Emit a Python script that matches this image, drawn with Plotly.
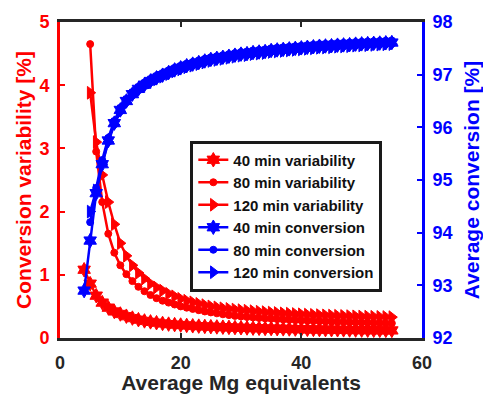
import plotly.graph_objects as go

# ---------------- data ----------------
x40 = [4, 5, 6, 7, 8, 9, 10, 11, 12, 13, 14, 15, 16, 17, 18, 19, 20, 21, 22, 23,
       24, 25, 26, 27, 28, 29, 30, 31, 32, 33, 34, 35, 36, 37, 38, 39, 40, 41, 42,
       43, 44, 45, 46, 47, 48, 49, 50, 51, 52, 53, 54, 55]
x80 = [5, 6, 7, 8, 9, 10, 11, 12, 13, 14, 15, 16, 17, 18, 19, 20, 21, 22, 23,
       24, 25, 26, 27, 28, 29, 30, 31, 32, 33, 34, 35, 36, 37, 38, 39, 40, 41, 42,
       43, 44, 45, 46, 47, 48, 49, 50, 51, 52, 53, 54, 55]
x120 = x80

var40 = [1.08, 0.86, 0.67, 0.56, 0.48, 0.42, 0.38, 0.345, 0.315, 0.29, 0.27, 0.255,
         0.242, 0.23, 0.22, 0.212, 0.205, 0.199, 0.193, 0.188, 0.183, 0.179, 0.175,
         0.171, 0.168, 0.165, 0.162, 0.159, 0.156, 0.154, 0.151, 0.149, 0.147, 0.145,
         0.143, 0.141, 0.139, 0.137, 0.136, 0.134, 0.133, 0.131, 0.13, 0.129, 0.127,
         0.126, 0.125, 0.124, 0.123, 0.122, 0.121, 0.12]
var80 = [4.65, 2.95, 2.15, 1.65, 1.35, 1.15, 1.01, 0.9, 0.81, 0.74, 0.68, 0.63, 0.59,
         0.56, 0.53, 0.5, 0.48, 0.46, 0.44, 0.42, 0.405, 0.39, 0.375, 0.362, 0.35,
         0.34, 0.332, 0.324, 0.317, 0.31, 0.304, 0.298, 0.292, 0.287, 0.282, 0.277,
         0.273, 0.269, 0.265, 0.261, 0.258, 0.255, 0.252, 0.249, 0.246, 0.243, 0.241,
         0.239, 0.237, 0.235, 0.233]
var120 = [3.88, 3.1, 2.58, 2.15, 1.8, 1.5, 1.3, 1.15, 1.03, 0.94, 0.86, 0.8, 0.75,
          0.7, 0.66, 0.62, 0.59, 0.565, 0.54, 0.52, 0.5, 0.485, 0.47, 0.46, 0.45,
          0.44, 0.432, 0.424, 0.416, 0.409, 0.402, 0.396, 0.39, 0.385, 0.38, 0.375,
          0.37, 0.366, 0.362, 0.358, 0.355, 0.352, 0.349, 0.346, 0.343, 0.34, 0.338,
          0.336, 0.334, 0.332, 0.33]

conv40 = [92.9, 93.85, 94.75, 95.3, 95.75, 96.08, 96.33, 96.5, 96.63, 96.73, 96.81,
          96.88, 96.94, 96.99, 97.04, 97.09, 97.13, 97.17, 97.2, 97.23, 97.26, 97.29,
          97.31, 97.33, 97.35, 97.37, 97.39, 97.4, 97.42, 97.43, 97.44, 97.46, 97.47,
          97.48, 97.49, 97.5, 97.51, 97.52, 97.53, 97.54, 97.545, 97.55, 97.56, 97.565,
          97.57, 97.58, 97.585, 97.59, 97.595, 97.6, 97.605, 97.61]
conv80 = [94.2, 94.85, 95.38, 95.8, 96.12, 96.37, 96.54, 96.67, 96.77, 96.85, 96.92,
          96.98, 97.03, 97.08, 97.13, 97.17, 97.21, 97.24, 97.27, 97.3, 97.33, 97.35,
          97.37, 97.39, 97.41, 97.43, 97.44, 97.46, 97.47, 97.48, 97.5, 97.51, 97.52,
          97.53, 97.54, 97.55, 97.56, 97.57, 97.58, 97.585, 97.59, 97.6, 97.605, 97.61,
          97.62, 97.625, 97.63, 97.635, 97.64, 97.645, 97.65]
conv120 = [94.4, 94.8, 95.3, 95.72, 96.05, 96.3, 96.47, 96.6, 96.7, 96.78, 96.85,
           96.91, 96.96, 97.01, 97.06, 97.1, 97.14, 97.17, 97.2, 97.23, 97.26, 97.28,
           97.3, 97.32, 97.34, 97.36, 97.37, 97.39, 97.4, 97.41, 97.43, 97.44, 97.45,
           97.46, 97.47, 97.48, 97.49, 97.5, 97.51, 97.515, 97.52, 97.53, 97.535, 97.54,
           97.55, 97.555, 97.56, 97.565, 97.57, 97.575, 97.58]

xticks = [0, 20, 40, 60]
yticks_left = [0, 1, 2, 3, 4, 5]
yticks_right = [92, 93, 94, 95, 96, 97, 98]

RED = "#FF0000"
BLUE = "#0000FF"
DARK = "#262626"
FONT = "Liberation Sans, Arial, sans-serif"

fig = go.Figure()

def add(x, y, name, color, symbol, size, yaxis):
    fig.add_trace(go.Scatter(
        x=x, y=y, name=name, mode="lines+markers", yaxis=yaxis,
        line=dict(color=color, width=2.5),
        marker=dict(color=color, symbol=symbol, size=size,
                    line=dict(color=color, width=1)),
    ))

add(x40, var40, "40 min variability", RED, "hexagram", 11, "y")
add(x80, var80, "80 min variability", RED, "circle", 7, "y")
add(x120, var120, "120 min variability", RED, "triangle-right", 11, "y")
add(x40, conv40, "40 min conversion", BLUE, "hexagram", 11, "y2")
add(x80, conv80, "80 min conversion", BLUE, "circle", 7, "y2")
add(x120, conv120, "120 min conversion", BLUE, "triangle-right", 11, "y2")

fig.update_layout(
    width=483, height=394,
    margin=dict(l=60, r=61, t=22, b=56, autoexpand=False),
    paper_bgcolor="white", plot_bgcolor="white",
    font=dict(family=FONT, size=17, color=DARK, weight="bold"),
    showlegend=True,
    legend=dict(
        x=0.36, y=0.625, xanchor="left", yanchor="top",
        bgcolor="white", bordercolor="#1a1a1a", borderwidth=3,
        font=dict(family=FONT, size=15, color="#111111", weight="bold"),
        tracegroupgap=0,
    ),
    xaxis=dict(
        range=[0, 60], tickvals=xticks, showgrid=False, zeroline=False,
        showline=True, linecolor=DARK, linewidth=3, mirror="ticks",
        ticks="inside", ticklen=5, tickwidth=2, tickcolor=DARK,
        ticklabelstandoff=6, automargin=False,
        tickfont=dict(family=FONT, size=18, color=DARK, weight="bold"),
        title=dict(text="Average Mg equivalents", standoff=11,
                   font=dict(family=FONT, size=21, color=DARK, weight="bold")),
    ),
    yaxis=dict(
        range=[0, 5], tickvals=yticks_left, showgrid=False, zeroline=False,
        showline=True, linecolor=RED, linewidth=3,
        ticks="inside", ticklen=5, tickwidth=2, tickcolor=RED,
        ticklabelstandoff=4, automargin=False,
        tickfont=dict(family=FONT, size=18, color=RED, weight="bold"),
        title=dict(text="Conversion variability [%]", standoff=3,
                   font=dict(family=FONT, size=21, color=RED, weight="bold")),
    ),
    yaxis2=dict(
        range=[92, 98], tickvals=yticks_right, overlaying="y", side="right",
        showgrid=False, zeroline=False,
        showline=True, linecolor=BLUE, linewidth=3,
        ticks="inside", ticklen=5, tickwidth=2, tickcolor=BLUE,
        ticklabelstandoff=4, automargin=False,
        tickfont=dict(family=FONT, size=18, color=BLUE, weight="bold"),
        title=dict(text="Average conversion [%]", standoff=18,
                   font=dict(family=FONT, size=21, color=BLUE, weight="bold")),
    ),
)

fig.write_html("out.html")
